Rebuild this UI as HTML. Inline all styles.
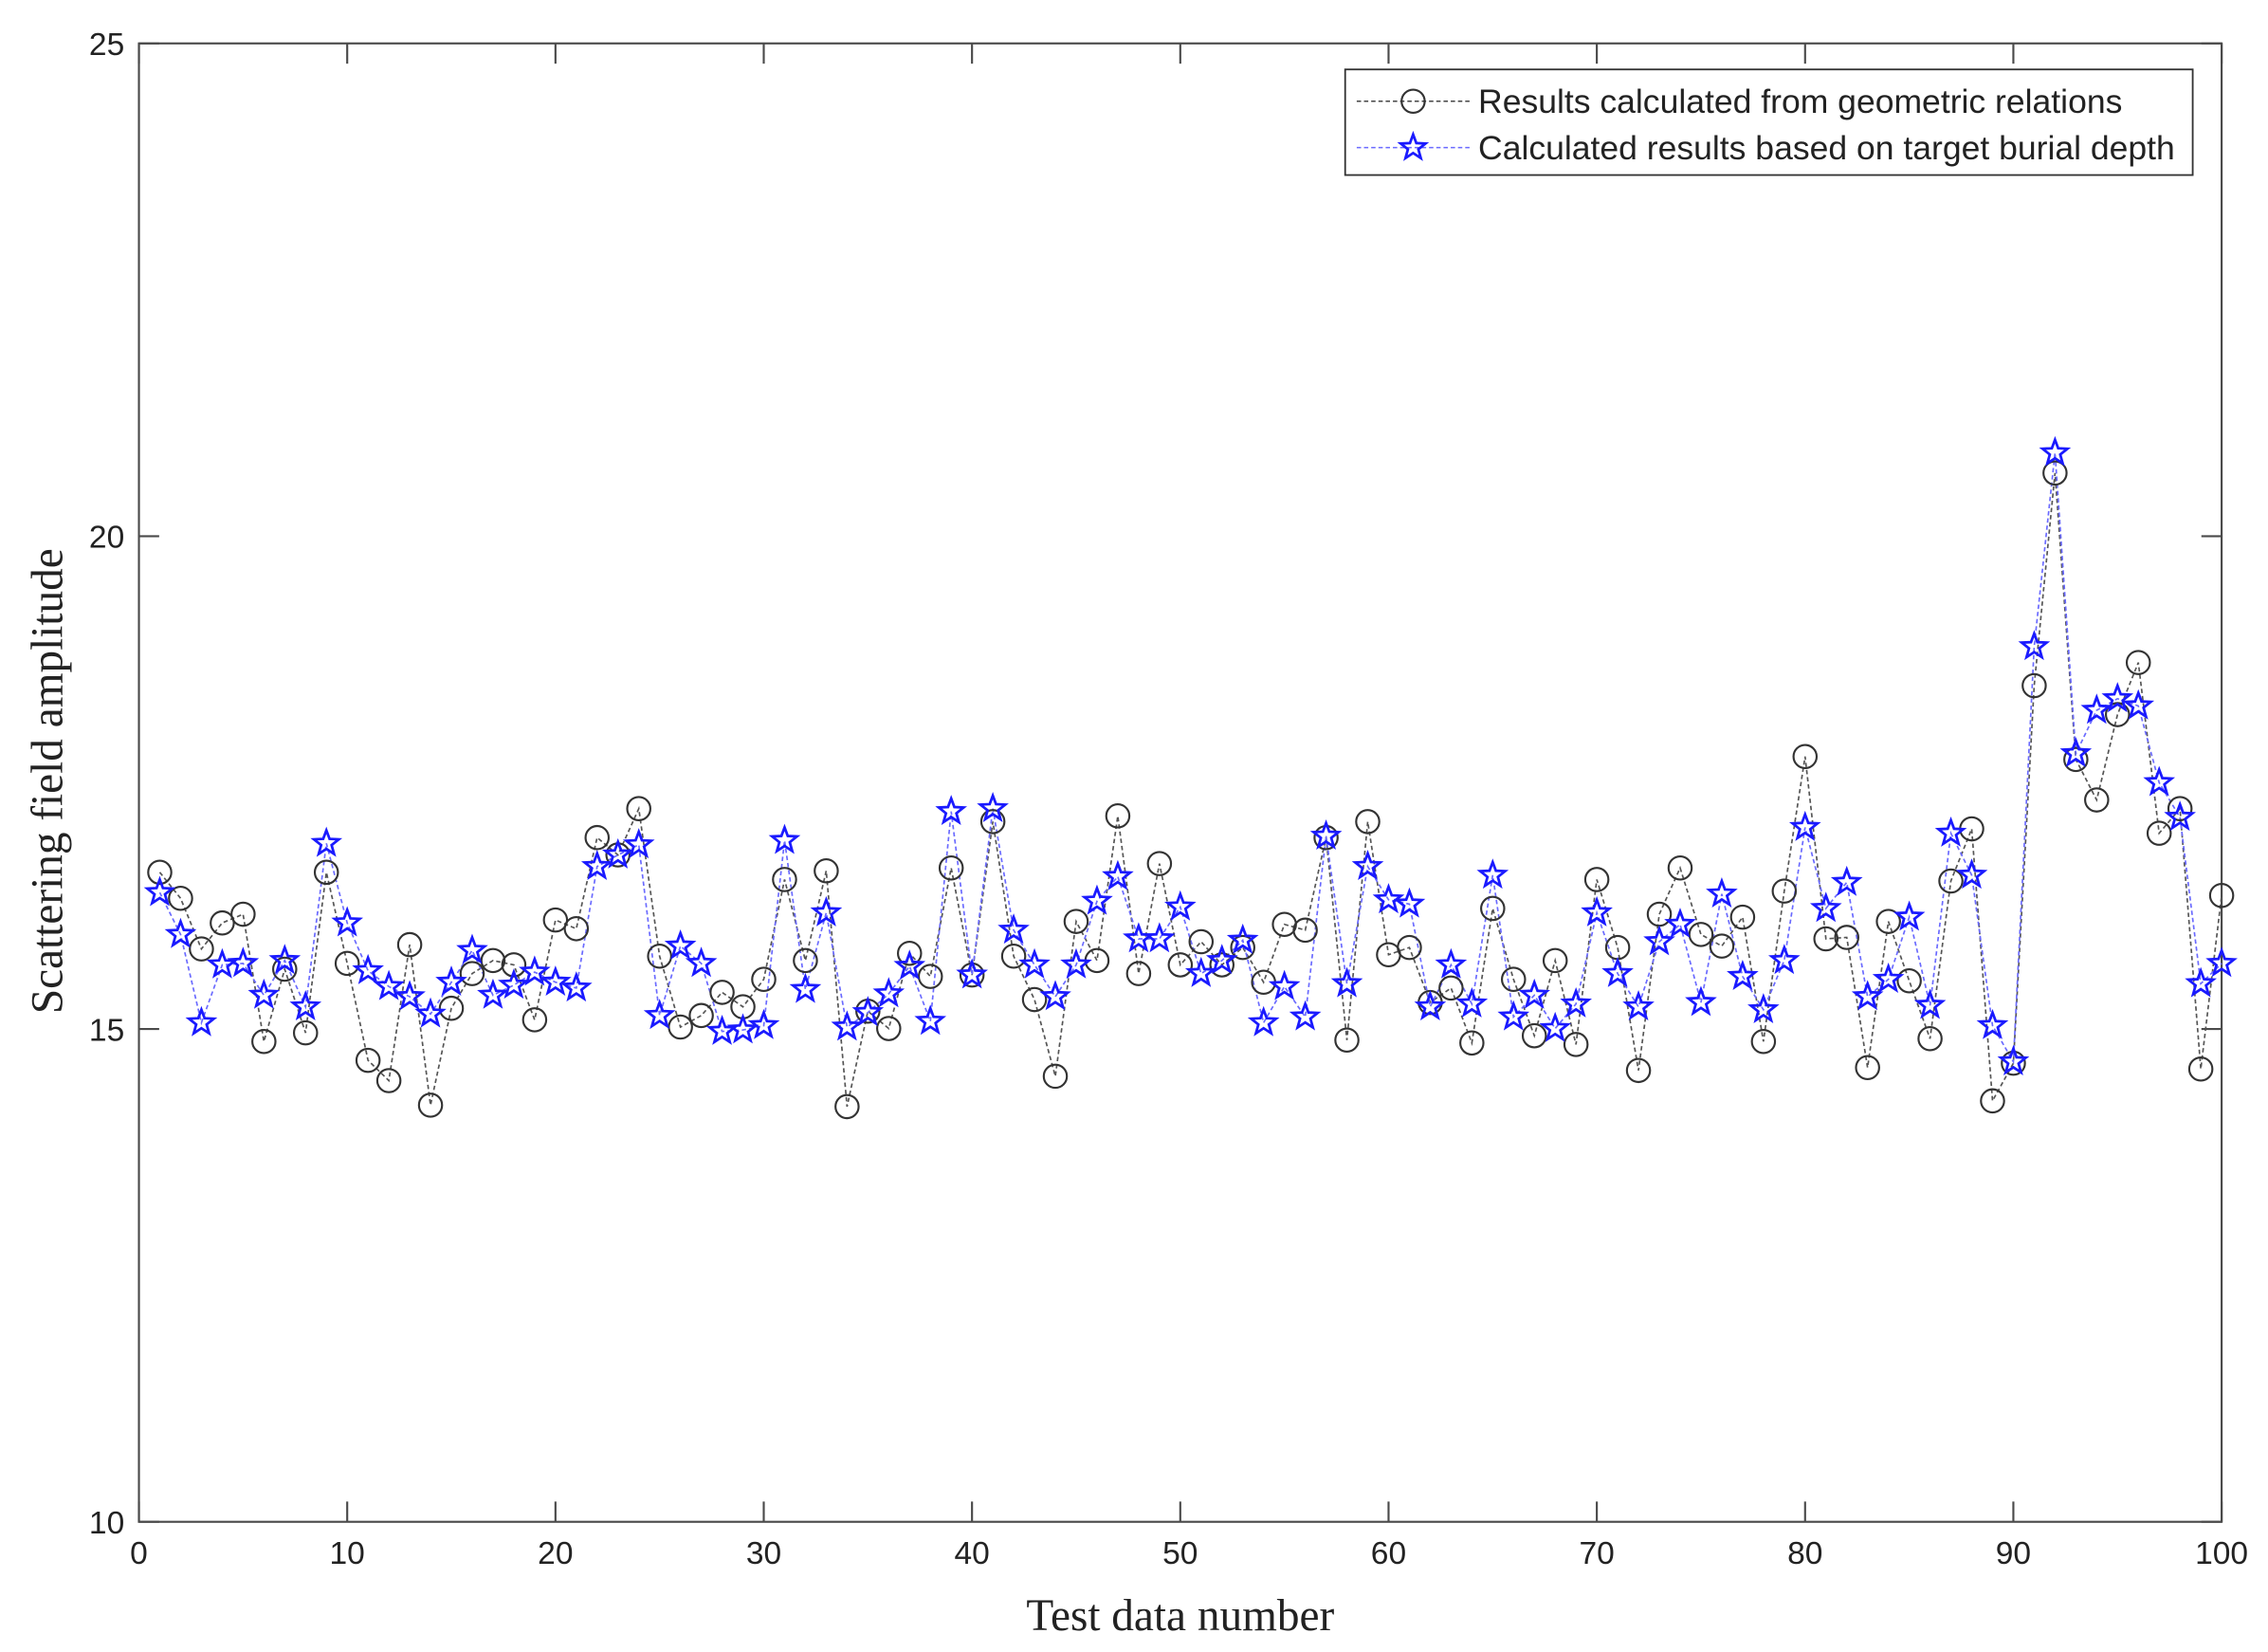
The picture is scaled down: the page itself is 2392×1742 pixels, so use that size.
<!DOCTYPE html>
<html><head><meta charset="utf-8"><style>html,body{margin:0;padding:0;background:#fff}svg{display:block}</style></head>
<body>
<svg id="s" width="2392" height="1742" viewBox="0 0 1568 1142" xmlns="http://www.w3.org/2000/svg">
<rect width="1568" height="1142" fill="#fff"/>
<g id="ax" stroke="#4a4a4a" stroke-width="1.4" fill="none"></g>
<g id="lab" font-family="Liberation Sans, sans-serif" font-size="22" fill="#222"></g>
<text x="816" y="1127" text-anchor="middle" font-family="Liberation Serif, serif" font-size="31" fill="#222">Test data number</text>
<text transform="translate(43,540) rotate(-90)" text-anchor="middle" font-family="Liberation Serif, serif" font-size="31" fill="#222">Scattering field amplitude</text>
<g id="data"></g>
<rect x="930" y="48" width="586" height="73" fill="#fff" stroke="#333" stroke-width="1.2"/>
<line x1="938" y1="70" x2="1016" y2="70" stroke="#444" stroke-dasharray="3,2" stroke-width="1"/>
<circle cx="977" cy="70" r="8" fill="none" stroke="#333" stroke-width="1.4"/>
<line x1="938" y1="102" x2="1016" y2="102" stroke="#6a6aff" stroke-dasharray="3,2" stroke-width="1"/>
<polygon id="lstar" fill="none" stroke="#1a1aff" stroke-width="1.8"/>
<text x="1022" y="78" font-family="Liberation Sans, sans-serif" font-size="23.3" fill="#222">Results calculated from geometric relations</text>
<text x="1022" y="110" font-family="Liberation Sans, sans-serif" font-size="23.3" fill="#222">Calculated results based on target burial depth</text>
</svg>
<script>
var NS="http://www.w3.org/2000/svg";
function el(t,a,p){var e=document.createElementNS(NS,t);for(var k in a)e.setAttribute(k,a[k]);p.appendChild(e);return e;}
var L=96,R=1536,T=30,B=1052;
var ax=document.getElementById('ax'),lab=document.getElementById('lab');
el('rect',{x:L,y:T,width:R-L,height:B-T},ax);
for(var i=0;i<=10;i++){var x=L+(R-L)*i/10;el('line',{x1:x,y1:B,x2:x,y2:B-14},ax);el('line',{x1:x,y1:T,x2:x,y2:T+14},ax);
var t=el('text',{x:x,y:B+29,'text-anchor':'middle'},lab);t.textContent=i*10;}
for(var j=0;j<4;j++){var y=B-(B-T)*j/3;el('line',{x1:L,y1:y,x2:L+14,y2:y},ax);el('line',{x1:R,y1:y,x2:R-14,y2:y},ax);
var t=el('text',{x:L-10,y:y+8,'text-anchor':'end'},lab);t.textContent=10+5*j;}
var c=[603,621,656,638,632,720,670,714,603,666,733,747,653,764,697,673,664,667,705,636,642,579,591,559,661,710,702,686,696,677,608,664,602,765,699,711,659,675,600,674,568,661,691,744,637,664,564,673,597,667,651,667,655,679,639,643,579,719,568,660,655,693,683,721,628,677,716,664,722,608,655,740,632,600,646,654,634,720,616,523,649,648,738,637,678,718,609,573,761,735,474,327,525,553,494,458,576,559,739,619];
var s=[617,646,707,667,666,688,664,696,583,638,671,682,689,701,679,657,688,681,672,679,683,599,591,584,702,654,666,713,712,709,581,684,631,710,700,687,668,706,561,674,559,643,667,689,667,623,606,649,649,627,673,664,650,707,682,703,578,680,599,622,625,696,667,694,605,703,688,711,694,631,673,696,651,639,693,618,675,698,664,572,628,610,689,677,634,695,576,605,709,734,447,313,521,491,483,488,541,565,680,666];
function X(i){return L+14.4*(i+1);}
function star(cx,cy,r){var p=[];for(var k=0;k<10;k++){var a=-Math.PI/2+k*Math.PI/5,rr=k%2?r*0.42:r;p.push((cx+rr*Math.cos(a)).toFixed(1)+','+(cy+rr*Math.sin(a)).toFixed(1));}return p.join(' ');}
var d=document.getElementById('data');
el('polyline',{points:c.map(function(v,i){return X(i)+','+v}).join(' '),fill:'none',stroke:'#555','stroke-dasharray':'3,2','stroke-width':1.1},d);
el('polyline',{points:s.map(function(v,i){return X(i)+','+v}).join(' '),fill:'none',stroke:'#6a6aff','stroke-dasharray':'3,2','stroke-width':1.1},d);
c.forEach(function(v,i){el('circle',{cx:X(i),cy:v,r:8,fill:'none',stroke:'#333','stroke-width':1.4},d);});
s.forEach(function(v,i){el('polygon',{points:star(X(i),v,9),fill:'none',stroke:'#1a1aff','stroke-width':1.8},d);});
document.getElementById('lstar').setAttribute('points',star(977,102,9));
</script>
</body></html>
